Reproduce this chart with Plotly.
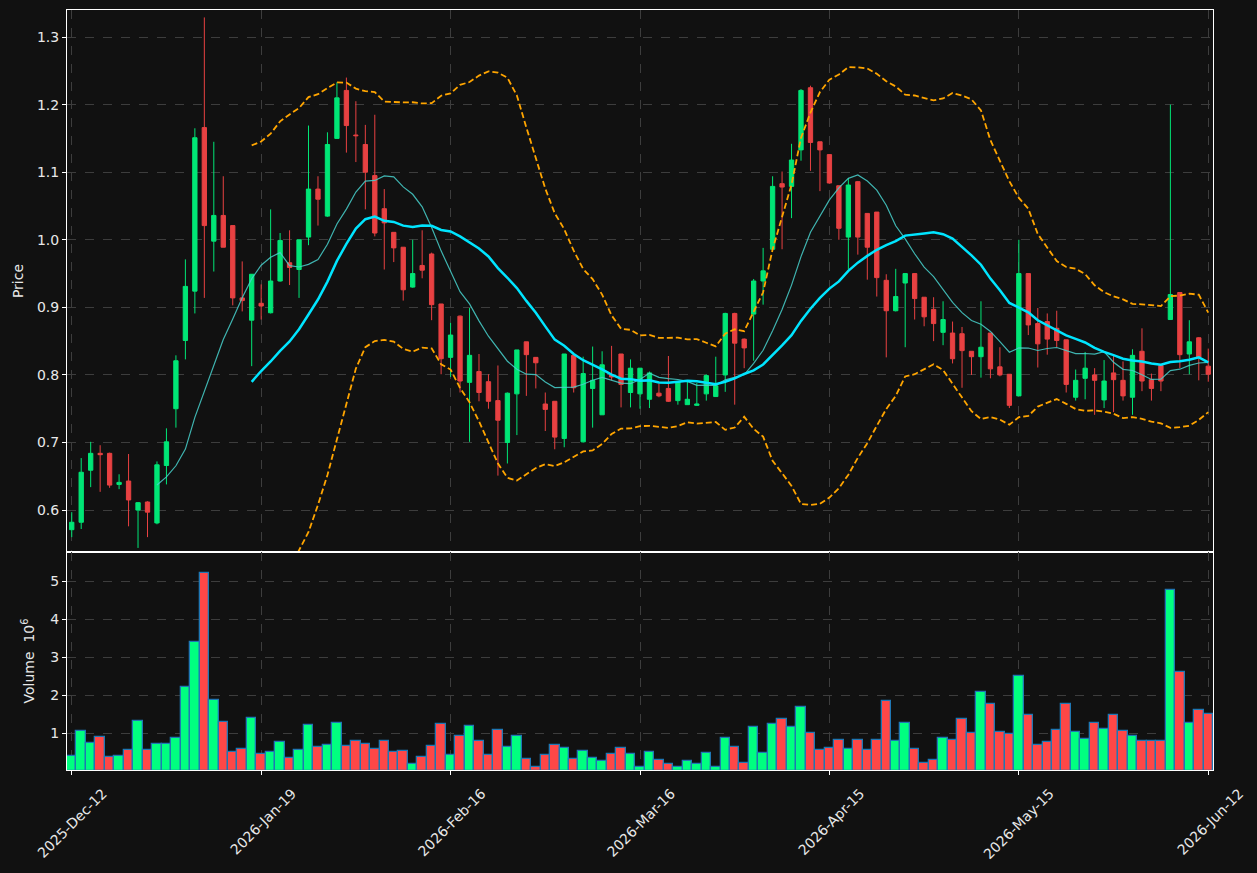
import pandas as pd
import plotly.graph_objects as go

# ---------------- data ----------------
opens = [0.571, 0.582, 0.659, 0.684, 0.684, 0.638, 0.643, 0.600, 0.612, 0.581,
         0.666, 0.750, 0.851, 0.924, 1.166, 0.998, 1.036, 1.021, 0.914, 0.881,
         0.906, 0.892, 0.939, 0.966, 0.956, 1.004, 1.075, 1.035, 1.150, 1.221,
         1.155, 1.141, 1.095, 1.046, 1.011, 0.989, 0.930, 0.962, 0.979, 0.905,
         0.826, 0.887, 0.789, 0.805, 0.790, 0.762, 0.700, 0.772, 0.849, 0.826,
         0.757, 0.761, 0.706, 0.829, 0.701, 0.780, 0.741, 0.800, 0.831, 0.774,
         0.772, 0.764, 0.773, 0.780, 0.762, 0.756, 0.755, 0.772, 0.768, 0.800,
         0.891, 0.853, 0.890, 0.939, 0.986, 1.083, 1.079, 1.133, 1.225, 1.145,
         1.126, 1.080, 1.004, 1.086, 1.039, 1.041, 0.940, 0.895, 0.936, 0.950,
         0.915, 0.897, 0.863, 0.862, 0.861, 0.835, 0.827, 0.862, 0.812, 0.801,
         0.769, 0.950, 0.876, 0.879, 0.869, 0.852, 0.767, 0.795, 0.800, 0.763,
         0.803, 0.792, 0.767, 0.835, 0.793, 0.814, 0.882, 0.922, 0.831, 0.855,
         0.813]
highs = [0.597, 0.677, 0.701, 0.696, 0.685, 0.653, 0.683, 0.612, 0.613, 0.672,
         0.721, 0.829, 0.971, 1.165, 1.329, 1.145, 1.094, 1.021, 0.968, 0.949,
         0.934, 1.045, 1.010, 1.014, 1.000, 1.169, 1.094, 1.159, 1.233, 1.240,
         1.205, 1.170, 1.185, 1.075, 1.011, 0.989, 1.000, 1.014, 0.981, 0.905,
         0.877, 0.888, 0.899, 0.831, 0.801, 0.814, 0.774, 0.837, 0.849, 0.826,
         0.774, 0.761, 0.831, 0.830, 0.827, 0.842, 0.835, 0.843, 0.831, 0.823,
         0.810, 0.805, 0.787, 0.828, 0.790, 0.790, 0.788, 0.801, 0.827, 0.892,
         0.892, 0.854, 0.942, 0.988, 1.094, 1.101, 1.142, 1.223, 1.228, 1.145,
         1.126, 1.080, 1.091, 1.087, 1.039, 1.041, 0.949, 0.957, 0.950, 0.950,
         0.915, 0.915, 0.909, 0.879, 0.871, 0.835, 0.909, 0.862, 0.841, 0.801,
         1.000, 0.950, 0.899, 0.891, 0.895, 0.852, 0.808, 0.834, 0.810, 0.822,
         0.828, 0.820, 0.838, 0.869, 0.802, 0.815, 1.200, 0.922, 0.881, 0.856,
         0.839]
lows = [0.560, 0.572, 0.634, 0.627, 0.633, 0.631, 0.576, 0.544, 0.560, 0.579,
        0.638, 0.722, 0.823, 0.891, 0.914, 0.953, 0.989, 0.903, 0.894, 0.813,
        0.882, 0.891, 0.938, 0.933, 0.914, 0.992, 1.021, 1.034, 1.150, 1.129,
        1.115, 1.045, 1.005, 0.956, 0.967, 0.910, 0.929, 0.943, 0.881, 0.801,
        0.797, 0.774, 0.701, 0.761, 0.750, 0.651, 0.669, 0.711, 0.769, 0.780,
        0.717, 0.690, 0.693, 0.774, 0.700, 0.722, 0.741, 0.792, 0.752, 0.752,
        0.750, 0.751, 0.767, 0.760, 0.756, 0.756, 0.754, 0.762, 0.768, 0.775,
        0.756, 0.810, 0.821, 0.904, 0.985, 0.986, 1.032, 1.117, 1.102, 1.072,
        1.083, 1.000, 0.956, 0.978, 0.941, 0.916, 0.826, 0.894, 0.841, 0.882,
        0.872, 0.850, 0.844, 0.817, 0.781, 0.800, 0.796, 0.795, 0.798, 0.751,
        0.769, 0.859, 0.811, 0.830, 0.841, 0.774, 0.762, 0.764, 0.741, 0.751,
        0.745, 0.762, 0.741, 0.776, 0.762, 0.776, 0.882, 0.810, 0.801, 0.792,
        0.790]
closes = [0.582, 0.656, 0.684, 0.682, 0.637, 0.641, 0.615, 0.611, 0.597, 0.667,
          0.701, 0.821, 0.931, 1.151, 1.021, 1.036, 0.989, 0.914, 0.910, 0.949,
          0.902, 0.939, 0.999, 0.959, 1.000, 1.075, 1.060, 1.141, 1.210, 1.169,
          1.154, 1.100, 1.010, 1.025, 0.988, 0.926, 0.950, 0.955, 0.904, 0.824,
          0.859, 0.791, 0.829, 0.774, 0.761, 0.733, 0.773, 0.837, 0.830, 0.818,
          0.749, 0.708, 0.831, 0.781, 0.802, 0.792, 0.815, 0.797, 0.786, 0.810,
          0.810, 0.803, 0.769, 0.761, 0.790, 0.764, 0.757, 0.799, 0.784, 0.891,
          0.847, 0.840, 0.939, 0.954, 1.079, 1.078, 1.118, 1.221, 1.144, 1.133,
          1.084, 1.017, 1.081, 1.004, 0.989, 0.944, 0.895, 0.916, 0.950, 0.913,
          0.886, 0.876, 0.882, 0.824, 0.836, 0.827, 0.841, 0.809, 0.800, 0.755,
          0.950, 0.874, 0.846, 0.853, 0.851, 0.786, 0.792, 0.810, 0.792, 0.791,
          0.793, 0.769, 0.829, 0.791, 0.780, 0.791, 0.919, 0.830, 0.849, 0.826,
          0.801]
volumes_m = [0.39, 1.05, 0.75, 0.90, 0.37, 0.39, 0.55, 1.32, 0.55, 0.71,
             0.71, 0.87, 2.21, 3.40, 5.21, 1.87, 1.29, 0.50, 0.58, 1.40,
             0.45, 0.50, 0.76, 0.34, 0.55, 1.21, 0.63, 0.68, 1.26, 0.66,
             0.79, 0.71, 0.58, 0.79, 0.50, 0.53, 0.18, 0.37, 0.66, 1.24,
             0.42, 0.92, 1.18, 0.79, 0.42, 1.08, 0.63, 0.92, 0.32, 0.11,
             0.42, 0.68, 0.61, 0.32, 0.53, 0.34, 0.26, 0.45, 0.61, 0.45,
             0.11, 0.50, 0.29, 0.18, 0.11, 0.26, 0.18, 0.47, 0.11, 0.87,
             0.63, 0.21, 1.16, 0.47, 1.24, 1.37, 1.16, 1.68, 1.00, 0.55,
             0.61, 0.82, 0.58, 0.82, 0.55, 0.82, 1.84, 0.79, 1.26, 0.58,
             0.21, 0.29, 0.87, 0.82, 1.37, 1.00, 2.08, 1.76, 1.03, 0.97,
             2.50, 1.47, 0.68, 0.76, 1.08, 1.76, 1.03, 0.84, 1.26, 1.11,
             1.47, 1.05, 0.92, 0.79, 0.79, 0.79, 4.76, 2.61, 1.26, 1.61,
             1.50]
tick_index = [0, 20, 40, 60, 80, 100, 120]
tick_labels = ["2025-Dec-12", "2026-Jan-19", "2026-Feb-16", "2026-Mar-16",
               "2026-Apr-15", "2026-May-15", "2026-Jun-12"]

# ---------------- derived ----------------
x = list(range(len(closes)))
s = pd.Series(closes)
ma10 = s.rolling(10).mean()
ma20 = s.rolling(20).mean()
sd20 = s.rolling(20).std(ddof=0)
bb_up = ma20 + 2 * sd20
bb_lo = ma20 - 2 * sd20

C_UP = "#00e676"
C_DN = "#e84142"
V_UP = "#00ff80"
V_DN = "#ff4747"
vol_colors = [V_UP if c >= o else V_DN for o, c in zip(opens, closes)]

BG = "#111111"
GRID = "#3d3d3d"
TXT = "#e8e8e8"
FONT = "DejaVu Sans"

fig = go.Figure()

fig.add_trace(go.Scatter(x=x, y=bb_up, mode="lines", xaxis="x", yaxis="y",
                         line=dict(color="#ffa500", width=1.8, dash="6px,3px"),
                         hoverinfo="skip", showlegend=False))
fig.add_trace(go.Scatter(x=x, y=bb_lo, mode="lines", xaxis="x", yaxis="y",
                         line=dict(color="#ffa500", width=1.8, dash="6px,3px"),
                         hoverinfo="skip", showlegend=False))

fig.add_trace(go.Candlestick(
    x=x, open=opens, high=highs, low=lows, close=closes,
    xaxis="x", yaxis="y",
    increasing=dict(line=dict(color=C_UP, width=1), fillcolor=C_UP),
    decreasing=dict(line=dict(color=C_DN, width=1), fillcolor=C_DN),
    whiskerwidth=0, showlegend=False))

fig.add_trace(go.Scatter(x=x, y=ma10, mode="lines", xaxis="x", yaxis="y",
                         line=dict(color="rgba(72,209,204,0.85)", width=1.2),
                         hoverinfo="skip", showlegend=False))
fig.add_trace(go.Scatter(x=x, y=ma20, mode="lines", xaxis="x", yaxis="y",
                         line=dict(color="#00e5ff", width=2.5),
                         hoverinfo="skip", showlegend=False))

fig.add_trace(go.Bar(x=x, y=volumes_m, xaxis="x2", yaxis="y2",
                     marker=dict(color=vol_colors, line=dict(color="#1f77b4", width=1.3)),
                     showlegend=False))

split = (770 - 552) / 760.0
axis_common = dict(showline=True, linecolor="white", linewidth=1, mirror=True,
                   showgrid=True, gridcolor=GRID, griddash="dash", gridwidth=1,
                   zeroline=False, tickfont=dict(family=FONT, size=14, color=TXT),
                   tickcolor="white", ticklen=4, automargin=False)

fig.update_layout(
    width=1257, height=873,
    margin=dict(l=67, r=44, t=10, b=103),
    paper_bgcolor=BG, plot_bgcolor=BG,
    font=dict(family=FONT, size=14, color=TXT),
    bargap=0, boxgap=0.35,
    showlegend=False,
    xaxis=dict(domain=[0, 1], anchor="y", range=[-0.5, 120.5], matches="x2",
               rangeslider=dict(visible=False), tickvals=tick_index,
               showticklabels=False, ticks="", **axis_common),
    yaxis=dict(domain=[split, 1], anchor="x", range=[0.538, 1.340],
               tickvals=[0.6, 0.7, 0.8, 0.9, 1.0, 1.1, 1.2, 1.3], tickformat=".1f",
               ticks="outside",
               title=dict(text="Price", font=dict(family=FONT, size=14, color=TXT), standoff=10),
               **axis_common),
    xaxis2=dict(domain=[0, 1], anchor="y2", range=[-0.5, 120.5],
                tickvals=tick_index, ticktext=tick_labels, tickangle=-45,
                ticklabelshift=31, ticklabelstandoff=5,
                ticks="outside", **axis_common),
    yaxis2=dict(domain=[0, split], anchor="x2", range=[0.03, 5.77],
                tickvals=[1, 2, 3, 4, 5], ticks="outside",
                title=dict(text="Volume\u00a0\u00a010<sup>6</sup>",
                           font=dict(family=FONT, size=14, color=TXT), standoff=12),
                **axis_common),
)

fig.write_html("out.html")
